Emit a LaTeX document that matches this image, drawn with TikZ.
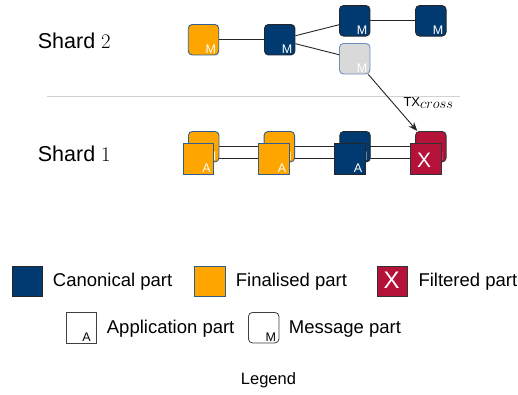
\documentclass[tikz,border=0pt]{standalone}
\usepackage{fontspec}
\setmainfont{Liberation Sans}
\usetikzlibrary{arrows.meta,backgrounds}

\definecolor{canon}{HTML}{003A70}
\definecolor{final}{HTML}{FFA500}
\definecolor{filt}{HTML}{B5123A}
\definecolor{pend}{HTML}{D9D9D9}
\definecolor{finedge}{HTML}{2F5F8F}
\definecolor{pendedge}{HTML}{6C8EBF}

\begin{document}
\begin{tikzpicture}[x=1pt,y=-1pt,
  part/.style={minimum width=30.5pt,minimum height=30.5pt,inner sep=0pt,
               line width=0.9pt,draw},
  msgpart/.style={part,rounded corners=4pt},
  apppart/.style={part},
  canonical/.style={fill=canon,draw=black!85},
  finalised/.style={fill=final,draw=finedge},
  filtered/.style={fill=filt,draw=black!80},
  pending/.style={fill=pend,draw=pendedge},
  plain/.style={fill=white,draw=black!75,line width=0.8pt},
  tag/.style={anchor=south east,inner sep=0pt,xshift=-3pt,yshift=1.7pt,
              font=\fontsize{12.5}{12.5}\selectfont,text=white},
  mtag/.style={label={[tag]south east:M}},
  atag/.style={label={[tag]south east:A}},
  xtag/.style={label={[anchor=center,inner sep=0pt,text=white,
               font=\fontsize{21}{21}\selectfont,xshift=-1.5pt,yshift=-1.5pt]center:X}},
  conn/.style={draw=black!85,line width=0.9pt},
  shardlbl/.style={anchor=base west,inner sep=0pt,font=\fontsize{21.5}{24}\selectfont},
  legtext/.style={anchor=base west,inner sep=0pt,font=\fontsize{18.5}{22}\selectfont},
]
\useasboundingbox (0,0) rectangle (518,394);

% shard labels and separator
\node[shardlbl] (s2) at (37.7,48.3) {Shard $2$};
\node[shardlbl] (s1) at (37.7,161.5) {Shard $1$};
\coordinate (sepL) at (47,96);
\coordinate (sepR) at (460,96);
\draw[black!18,line width=0.7pt] (sepL) -- (sepR);

% shard 2: message parts
\node[msgpart,finalised,mtag] (o2) at (203.5,39.7) {};
\node[msgpart,canonical,mtag] (c2) at (279.7,39.7) {};
\node[msgpart,canonical,mtag] (c3) at (354.7,20.8) {};
\node[msgpart,canonical,mtag] (c4) at (430.8,20.8) {};
\node[msgpart,pending,mtag]   (g2) at (354.7,58.7) {};
\draw[conn] (o2) -- (c2);
\draw[conn] (c2) -- (c3);
\draw[conn] (c3) -- (c4);
\draw[conn] (c2) -- (g2);

% shard 1: message parts (back) and application parts (front)
\node[msgpart,finalised,mtag] (b1) at (203.7,146.7) {};
\node[msgpart,finalised,mtag] (b2) at (279.3,146.7) {};
\node[msgpart,canonical,mtag] (b3) at (355.0,146.7) {};
\node[msgpart,filtered,mtag]  (b4) at (430.8,146.7) {};
\node[apppart,finalised,atag] (f1) at (198.3,158.7) {};
\node[apppart,finalised,atag] (f2) at (273.7,158.7) {};
\node[apppart,canonical,atag] (f3) at (349.7,158.7) {};
\node[apppart,filtered,xtag]  (f4) at (425.7,158.7) {};
\begin{scope}[on background layer]
  \draw[conn] (b1.center) -- (b4.center);
  \draw[conn] (f1.center) -- (f4.center);
\end{scope}

% cross-shard transaction
\draw[conn,-{Stealth[length=9pt,width=7pt]}] (g2) -- (b4);
\node[anchor=base west,inner sep=0pt,font=\fontsize{13}{13}\selectfont] (tx)
  at (403.3,106.7) {TX\raisebox{-1.8pt}{\fontsize{13.5}{14}\selectfont$cross$}};

% legend
\node[apppart,canonical] (lc) at (27.2,281.4) {};
\node[legtext] (lct) at (52.7,286.7) {Canonical part};
\node[apppart,finalised] (lf) at (210.0,281.4) {};
\node[legtext] (lft) at (235.7,286.3) {Finalised part};
\node[apppart,filtered,label={[anchor=center,inner sep=0pt,text=white,
      font=\fontsize{24}{24}\selectfont,xshift=-0.8pt,yshift=1pt]center:X}] (lx) at (392.5,281.5) {};
\node[legtext] (lxt) at (418.3,286.3) {Filtered part};
\node[apppart,plain,label={[tag,text=black,xshift=-3pt]south east:A}] (la) at (81.2,327.7) {};
\node[legtext] (lat) at (106.7,333.3) {Application part};
\node[msgpart,plain,label={[tag,text=black]south east:M}] (lm) at (263.7,327.7) {};
\node[legtext] (lmt) at (288.7,333.3) {Message part};
\node[anchor=base,inner sep=0pt,font=\fontsize{16.5}{18}\selectfont] (leg) at (268.5,384.3) {Legend};
\end{tikzpicture}
\end{document}
